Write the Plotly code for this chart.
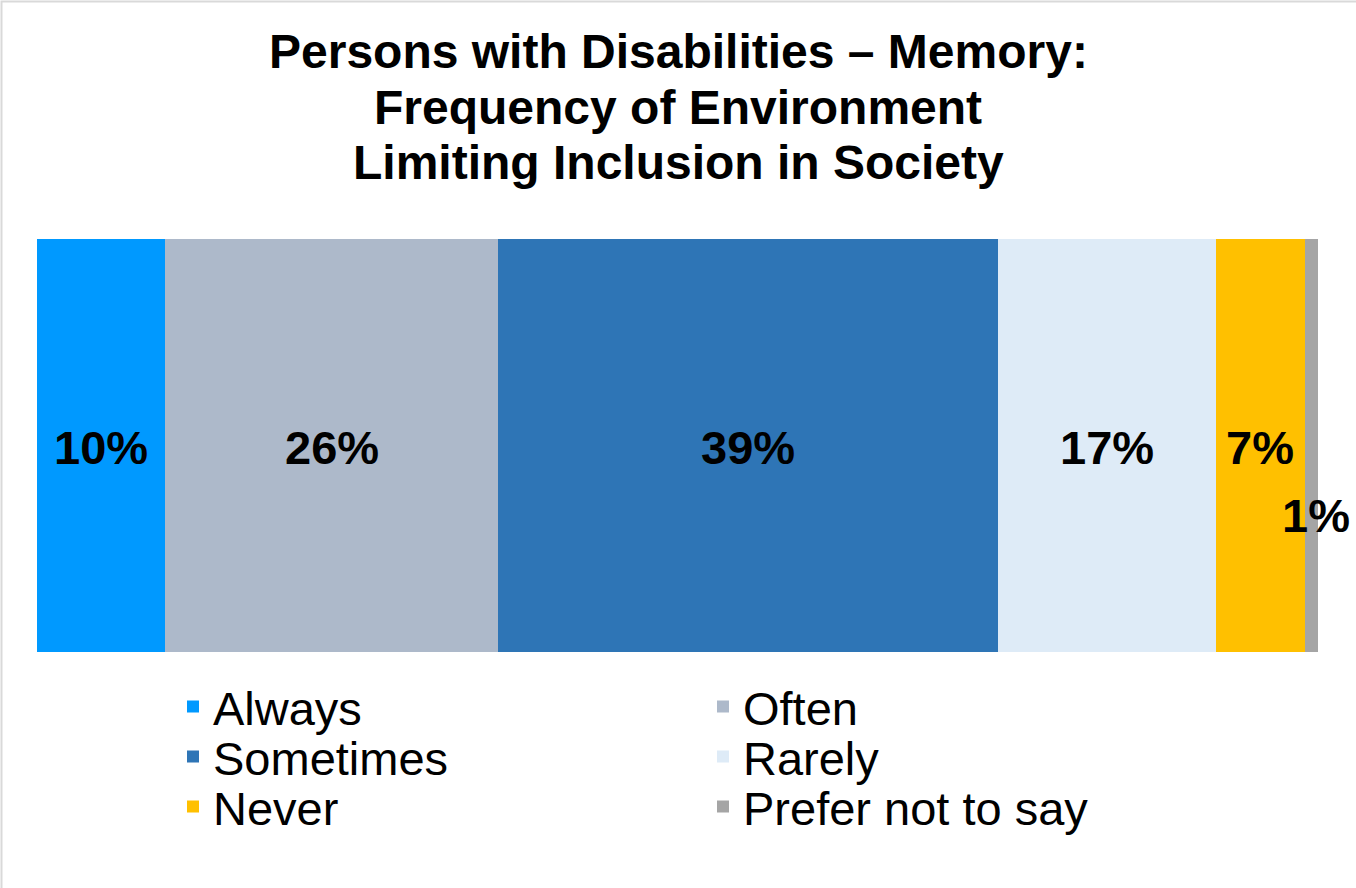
import plotly.graph_objects as go

categories = ["Always", "Often", "Sometimes", "Rarely", "Never", "Prefer not to say"]
values = [10, 26, 39, 17, 7, 1]
labels = ["10%", "26%", "39%", "17%", "7%", "1%"]
colors = ["#0099FF", "#ADB9CA", "#2E75B6", "#DEEBF7", "#FFC000", "#A5A5A5"]
title_lines = ["Persons with Disabilities – Memory:", "Frequency of Environment", "Limiting Inclusion in Society"]

FONT = "Arial, Liberation Sans, sans-serif"
W, H = 1356, 888
ML, MR, MT, MB = 37, 38, 239, 236
pw = W - ML - MR
ph = H - MT - MB


def py(px):
    return (H - MB - px) / ph


def pxx(px):
    return (px - ML) / pw


legend_ids = ["legend", "legend", "legend2", "legend2", "legend3", "legend3"]

fig = go.Figure()
for cat, v, c, lg in zip(categories, values, colors, legend_ids):
    fig.add_trace(go.Bar(x=[v], y=["Memory"], name=cat, orientation="h",
                         marker=dict(color=c, line=dict(width=0)),
                         legend=lg, hoverinfo="name+x"))

annotations = []
cum = 0
for i, (v, lab) in enumerate(zip(values, labels)):
    mid = cum + v / 2
    cum += v
    ann = dict(x=mid, y=0, xref="x", yref="y", text=f"<b>{lab}</b>", showarrow=False,
               font=dict(family=FONT, size=47, color="#000000"), xanchor="center", yanchor="middle",
               yshift=-2)
    if i == len(values) - 1:
        ann["yshift"] = -70
        ann["xshift"] = 4
    annotations.append(ann)

for line, ypx in zip(title_lines, [52, 107, 162]):
    annotations.append(dict(x=pxx(W / 2), xref="paper", y=py(ypx), yref="paper",
                            text=f"<b>{line}</b>", showarrow=False, xanchor="center", yanchor="middle",
                            font=dict(family=FONT, size=48, color="#000000")))

leg_common = dict(orientation="h", x=pxx(173), xanchor="left", yanchor="middle",
                  entrywidth=485, entrywidthmode="pixels", traceorder="normal",
                  font=dict(family=FONT, size=47, color="#000000"), bgcolor="rgba(0,0,0,0)")

fig.update_layout(
    width=W, height=H,
    margin=dict(l=ML, r=MR, t=MT, b=MB, pad=0),
    barmode="stack", bargap=0,
    paper_bgcolor="white", plot_bgcolor="white",
    xaxis=dict(range=[0, 100], visible=False, fixedrange=True),
    yaxis=dict(range=[-0.5, 0.5], visible=False, fixedrange=True),
    showlegend=True,
    legend=dict(y=py(707), **leg_common),
    legend2=dict(y=py(757), **leg_common),
    legend3=dict(y=py(807), **leg_common),
    annotations=annotations,
    shapes=[dict(type="rect", xref="paper", yref="paper",
                 x0=pxx(1.5), x1=pxx(W + 5),
                 y0=py(H + 5), y1=py(1.5),
                 line=dict(color="#D9D9D9", width=2), fillcolor="rgba(0,0,0,0)", layer="below")],
)

fig.write_html("out.html", config={"displayModeBar": False},
               post_script="document.body.style.margin='0';document.body.style.overflow='hidden';")
